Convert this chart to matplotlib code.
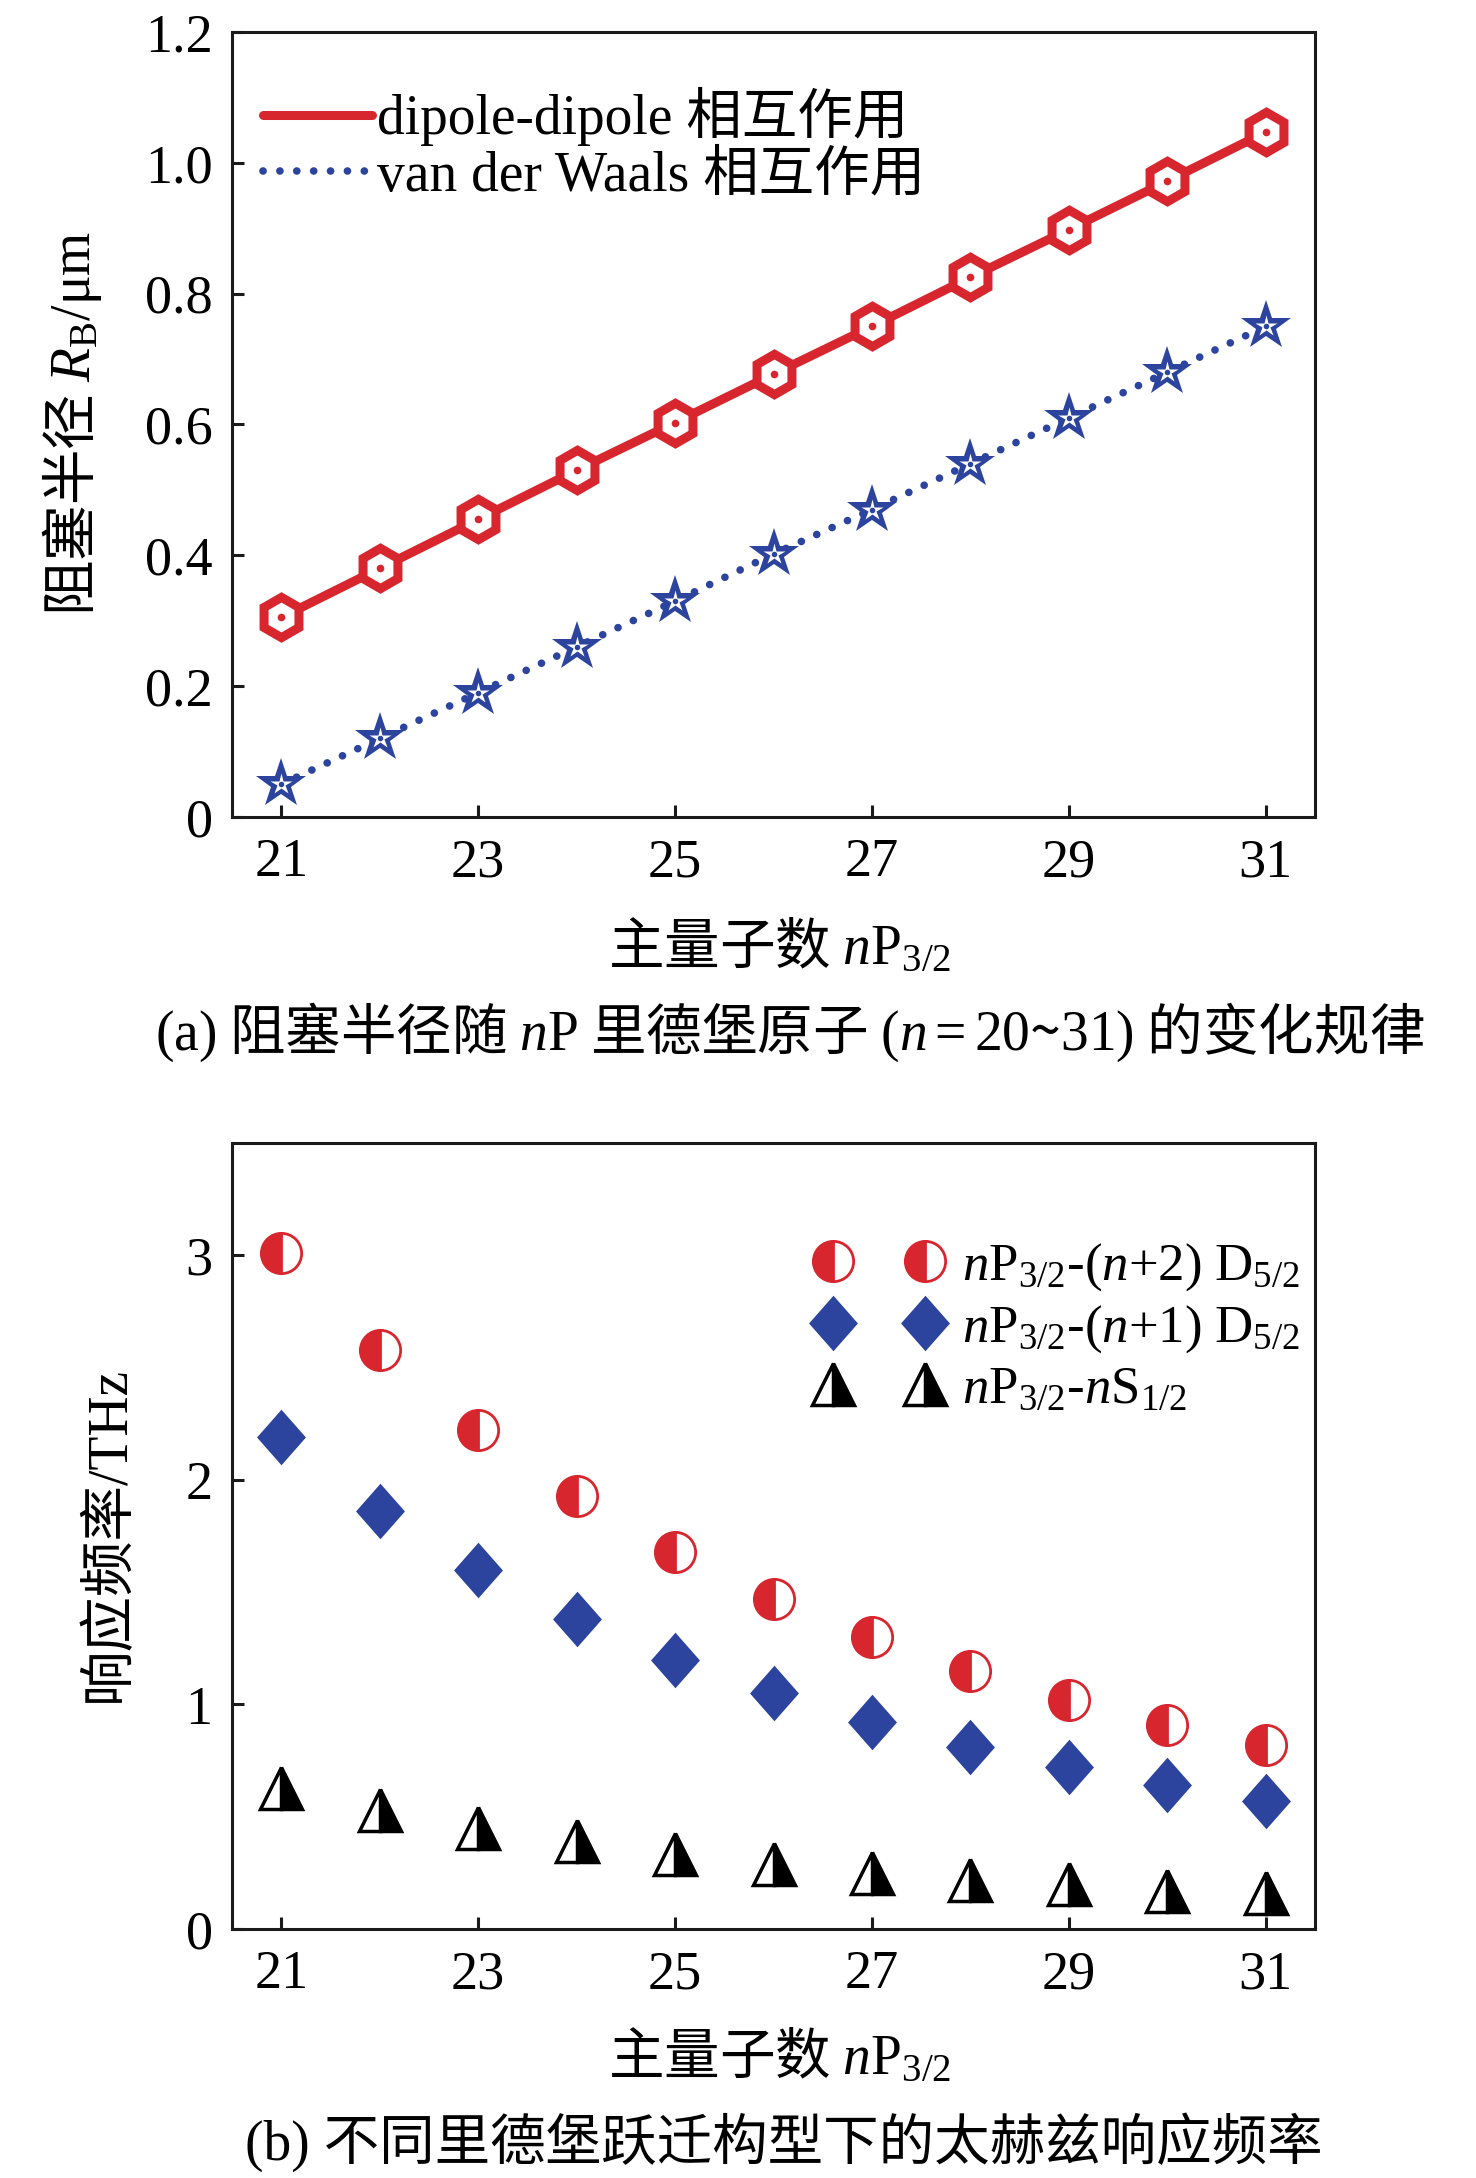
import matplotlib
matplotlib.use('Agg')
import matplotlib.pyplot as plt
from matplotlib.lines import Line2D

# ---------------- data ----------------
n_vals = [21, 22, 23, 24, 25, 26, 27, 28, 29, 30, 31]
rb_dipole = [0.305, 0.380, 0.455, 0.530, 0.603, 0.677, 0.750, 0.825, 0.898, 0.972, 1.047]
rb_vdw = [0.050, 0.120, 0.190, 0.260, 0.330, 0.402, 0.470, 0.540, 0.610, 0.680, 0.750]
freq_n2D = [3.01, 2.58, 2.22, 1.93, 1.68, 1.47, 1.30, 1.15, 1.02, 0.91, 0.82]
freq_n1D = [2.19, 1.86, 1.60, 1.38, 1.20, 1.05, 0.92, 0.81, 0.72, 0.64, 0.57]
freq_nS = [0.63, 0.53, 0.45, 0.39, 0.335, 0.29, 0.25, 0.22, 0.20, 0.17, 0.16]
x_ticks = [21, 23, 25, 27, 29, 31]
ya_ticks = [0, 0.2, 0.4, 0.6, 0.8, 1.0, 1.2]
ya_labels = ['0', '0.2', '0.4', '0.6', '0.8', '1.0', '1.2']
yb_ticks = [0, 1, 2, 3]
yb_labels = ['0', '1', '2', '3']
legend_a = ['dipole-dipole 相互作用', 'van der Waals 相互作用']
legend_b = [r'$n\mathrm{P}_{3/2}$-$(n\mathrm{+2)\ D}_{5/2}$',
            r'$n\mathrm{P}_{3/2}$-$(n\mathrm{+1)\ D}_{5/2}$',
            r'$n\mathrm{P}_{3/2}$-$n\mathrm{S}_{1/2}$']

# ---------------- style ----------------
plt.rcParams['font.family'] = ['Liberation Serif', 'Noto Sans CJK SC']
plt.rcParams['mathtext.fontset'] = 'custom'
plt.rcParams['mathtext.rm'] = 'Liberation Serif'
plt.rcParams['mathtext.it'] = 'Liberation Serif:italic'
plt.rcParams['mathtext.bf'] = 'Liberation Serif:bold'
plt.rcParams['axes.unicode_minus'] = False

RED = '#D8262E'
BLUE = '#2C449E'
CJK = 'Noto Sans CJK SC'
FS_TICK = 39
FS_TXT = 40

W, H = 1476, 2178
fig = plt.figure(figsize=(W / 100, H / 100), dpi=100)
ax1 = fig.add_axes([232 / W, 1 - 817 / H, 1083 / W, 785 / H])
ax2 = fig.add_axes([232 / W, 1 - 1929 / H, 1083 / W, 786 / H])


def style(ax):
    for s in ax.spines.values():
        s.set_linewidth(2.2)
        s.set_color('#1a1a1a')
    ax.tick_params(axis='both', direction='in', length=8.6, width=2.2,
                   top=False, right=False, labelsize=FS_TICK, color='#1a1a1a')
    ax.tick_params(axis='x', pad=15)
    ax.tick_params(axis='y', pad=14)
    ax.set_xlim(20.5, 31.5)
    ax.set_xticks(x_ticks)
    ax.set_xticklabels([str(t) for t in x_ticks])


# ---------------- panel (a) ----------------
style(ax1)
ax1.set_ylim(0, 1.2)
ax1.set_yticks(ya_ticks)
ax1.set_yticklabels(ya_labels)

dotted = (0, (0.01, 2.2))
ax1.plot(n_vals, rb_dipole, color=RED, lw=6.5, solid_capstyle='round', zorder=2)
ax1.plot(n_vals, rb_dipole, ls='none', marker='h', ms=29, mfc='white', mec=RED,
         mew=6.5, zorder=3)
ax1.plot(n_vals, rb_dipole, ls='none', marker='o', ms=5.5, mfc=RED, mec='none', zorder=4)

ax1.plot(n_vals, rb_vdw, color=BLUE, lw=5.5, ls=dotted, dash_capstyle='round', zorder=2)
ax1.plot(n_vals, rb_vdw, ls='none', marker='*', ms=38, mfc=BLUE, mec=BLUE, mew=0, zorder=3)
ax1.plot(n_vals, rb_vdw, ls='none', marker='*', ms=16, mfc='white', mec='none', zorder=4)
ax1.plot(n_vals, rb_vdw, ls='none', marker='o', ms=4, mfc=BLUE, mec='none', zorder=5)

h_a = [Line2D([], [], color=RED, lw=6.5, solid_capstyle='round'),
       Line2D([], [], color=BLUE, lw=5.5, ls=dotted, dash_capstyle='round')]
ax1.legend(h_a, legend_a, loc='upper left', bbox_to_anchor=(0.029, 0.93),
           frameon=False, fontsize=FS_TXT, handlelength=1.95, handletextpad=0.1,
           labelspacing=0.08, borderpad=0, borderaxespad=0)

fig.text(72 / W, 1 - 423 / H, r'阻塞半径 $R_\mathrm{B}\mathrm{/\mu m}$', rotation=90,
         ha='center', va='center', fontsize=FS_TXT, family=CJK)
fig.text(780 / W, 1 - 948 / H, r'主量子数 $n\mathrm{P}_{3/2}$', ha='center',
         va='center', fontsize=FS_TXT, family=CJK)
fig.text(790 / W, 1 - 1032 / H,
         r'$\mathrm{(a)}$ 阻塞半径随 $n\mathrm{P}$ 里德堡原子 $(n=20$~$31)$ 的变化规律',
         ha='center', va='center', fontsize=FS_TXT, family=CJK)

# ---------------- panel (b) ----------------
style(ax2)
ax2.set_ylim(0, 3.5)
ax2.set_yticks(yb_ticks)
ax2.set_yticklabels(yb_labels)

diamond = [(0, 1), (0.88, 0), (0, -1), (-0.88, 0), (0, 1)]
kw_red = dict(ls='none', marker='o', ms=29, mfc=RED, markerfacecoloralt='white',
              fillstyle='left', mec=RED, mew=2)
kw_blue = dict(ls='none', marker=diamond, ms=40, mfc=BLUE, mec='none', mew=0)
kw_blk = dict(ls='none', marker='^', ms=30, mfc='black', markerfacecoloralt='white',
              fillstyle='right', mec='black', mew=2.5)
ax2.plot(n_vals, freq_n2D, **kw_red)
ax2.plot(n_vals, freq_n1D, **kw_blue)
ax2.plot(n_vals, freq_nS, **kw_blk)

h_b = [Line2D([], [], **kw_red), Line2D([], [], **kw_blue), Line2D([], [], **kw_blk)]
ax2.legend(h_b, legend_b, loc='upper left', bbox_to_anchor=(0.540, 0.875),
           frameon=False, fontsize=38, numpoints=2, handlelength=2.35,
           handletextpad=0.4, labelspacing=0.2, borderpad=0, borderaxespad=0)

fig.text(110 / W, 1 - 1534 / H, '响应频率/THz', rotation=90, ha='center', va='center',
         fontsize=FS_TXT)
fig.text(780 / W, 1 - 2058 / H, r'主量子数 $n\mathrm{P}_{3/2}$', ha='center',
         va='center', fontsize=FS_TXT, family=CJK)
fig.text(784 / W, 1 - 2142 / H, '(b) 不同里德堡跃迁构型下的太赫兹响应频率',
         ha='center', va='center', fontsize=FS_TXT)

fig.savefig('out.png', dpi=100)
